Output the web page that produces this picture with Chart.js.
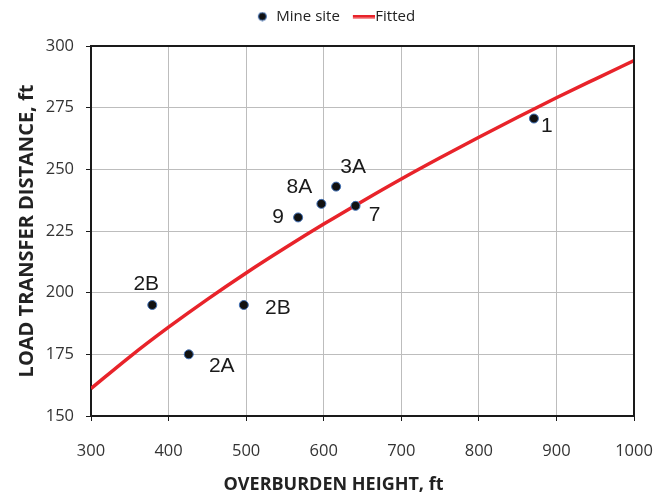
<!DOCTYPE html>
<html>
<head>
<meta charset="utf-8">
<script src="https://cdn.jsdelivr.net/npm/chart.js@4.4.1/dist/chart.umd.min.js"></script>
<style>
  html, body { margin: 0; padding: 0; background: #fff; }
  #wrap { width: 664px; height: 497px; }
</style>
</head>
<body>
<div id="wrap"><canvas id="chart" width="664" height="497"></canvas></div>
<script>
// Mine site measurements
const siteNames = ['2B', '2A', '2B', '9', '8A', '3A', '7', '1'];
const siteHeight = [379, 426, 497, 567, 597, 616, 641, 871];
const siteDistance = [195, 175, 195, 230.5, 236, 243, 235.2, 270.6];

// Fitted curve, read every 50 ft
const fitHeight = [300, 350, 400, 450, 500, 550, 600, 650, 700, 750, 800, 850, 900, 950, 1000];
const fitDistance = [161.1, 174.0, 186.0, 197.3, 208.0, 218.1, 227.8, 237.1, 246.1, 254.7, 263.0, 271.1, 279.0, 286.6, 294.1];

// Axis ticks
const xTicks = [300, 400, 500, 600, 700, 800, 900, 1000];
const yTicks = [150, 175, 200, 225, 250, 275, 300];

// label offsets (px) from each point
const labelOffsets = [[-6, -21], [33, 12], [34, 3], [-20, 0], [-22, -17], [17, -19], [19, 9], [13, 8]];

// legend icons are drawn centred on the 16px box; shift them right a bit
function makeDot() {
    const c = document.createElement('canvas');
    c.width = 14; c.height = 10;
    const g = c.getContext('2d');
    g.beginPath();
    g.arc(8.5, 5, 4, 0, Math.PI * 2);
    g.fillStyle = '#111';
    g.fill();
    g.lineWidth = 1;
    g.strokeStyle = '#3f6fb5';
    g.stroke();
    return c;
}

function makeLine() {
    const c = document.createElement('canvas');
    c.width = 30; c.height = 4;
    const g = c.getContext('2d');
    g.fillStyle = '#e8232a';
    g.fillRect(8, 0, 22, 3.5);
    return c;
}

const legendIcons = [makeDot(), makeLine()];

// fixed legend band, legend nudged into place
const legendBand = {
    id: 'legendBand',
    afterInit(chart) {
        const lg = chart.legend;
        const fit = lg.fit;
        const draw = lg.draw;
        lg.fit = function() {
            fit.call(this);
            this.height = 46;
        };
        lg.draw = function() {
            this.ctx.save();
            this.ctx.translate(17, -3);
            draw.call(this);
            this.ctx.restore();
        };
    }
};

// x title is centred on the whole chart, not the plot area
const titleShift = {
    id: 'titleShift',
    beforeDraw(chart) {
        const sc = chart.scales.x;
        if (sc._shifted) return;
        const drawTitle = sc.drawTitle;
        sc.drawTitle = function() {
            this.ctx.save();
            this.ctx.translate(-29, 0);
            drawTitle.call(this);
            this.ctx.restore();
        };
        sc._shifted = true;
    }
};

const pointLabels = {
    id: 'pointLabels',
    afterDatasetsDraw(chart) {
        const { ctx, scales } = chart;
        ctx.save();
        ctx.font = '21px "Liberation Sans", Arial, sans-serif';
        ctx.fillStyle = '#1a1a1a';
        ctx.textAlign = 'center';
        ctx.textBaseline = 'middle';
        siteNames.forEach((name, i) => {
            const x = scales.x.getPixelForValue(siteHeight[i]) + labelOffsets[i][0];
            const y = scales.y.getPixelForValue(siteDistance[i]) + labelOffsets[i][1];
            ctx.fillText(name, x, y);
        });
        ctx.restore();
    }
};

const frame = {
    id: 'frame',
    afterDraw(chart) {
        const { ctx, chartArea: a } = chart;
        ctx.save();
        ctx.strokeStyle = '#1a1a1a';
        ctx.lineWidth = 2;
        ctx.beginPath();
        ctx.moveTo(a.left, a.top);
        ctx.lineTo(a.right, a.top);
        ctx.lineTo(a.right, a.bottom);
        ctx.stroke();
        ctx.restore();
    }
};

new Chart(document.getElementById('chart'), {
    type: 'scatter',
    data: {
        datasets: [{
            label: 'Mine site',
            data: siteHeight.map((h, i) => ({ x: h, y: siteDistance[i] })),
            backgroundColor: '#111',
            borderColor: '#3f6fb5',
            borderWidth: 1,
            pointRadius: 4.5,
            order: 0
        }, {
            label: 'Fitted',
            data: fitHeight.map((h, i) => ({ x: h, y: fitDistance[i] })),
            showLine: true,
            borderColor: '#e8232a',
            borderWidth: 3.5,
            pointRadius: 0,
            cubicInterpolationMode: 'monotone',
            order: 1
        }]
    },
    options: {
        responsive: false,
        animation: false,
        devicePixelRatio: 1,
        layout: { padding: { top: 0, right: 30, left: 0, bottom: 0 } },
        plugins: {
            tooltip: { enabled: false },
            legend: {
                position: 'top',
                labels: {
                    usePointStyle: true,
                    pointStyleWidth: 16,
                    boxHeight: 10,
                    padding: 12,
                    color: '#222',
                    font: { family: '"Open Sans", sans-serif', size: 15 },
                    generateLabels(chart) {
                        const items = Chart.defaults.plugins.legend.labels.generateLabels(chart);
                        items.forEach((it, i) => { it.pointStyle = legendIcons[i]; });
                        return items;
                    }
                }
            }
        },
        scales: {
            x: {
                type: 'linear',
                min: 300,
                max: 1000,
                afterBuildTicks: s => { s.ticks = xTicks.map(v => ({ value: v })); },
                afterFit: s => {
                    s.height = 81;
                    s.paddingLeft = 0;
                    s.paddingRight = 0;
                },
                grid: { color: '#bdbdbd', tickColor: '#1a1a1a', tickLength: 5, lineWidth: 1 },
                border: { color: '#1a1a1a', width: 2 },
                ticks: {
                    padding: 20,
                    color: '#333',
                    font: { family: '"Open Sans", sans-serif', size: 16.5 },
                    callback: v => String(v)
                },
                title: {
                    display: true,
                    text: 'OVERBURDEN HEIGHT, ft',
                    color: '#222',
                    padding: { top: 0, bottom: 1 },
                    font: { family: '"Open Sans", sans-serif', size: 18, weight: 'bold' }
                }
            },
            y: {
                type: 'linear',
                min: 150,
                max: 300,
                afterBuildTicks: s => { s.ticks = yTicks.map(v => ({ value: v })); },
                afterFit: s => { s.width = 91; },
                grid: { color: '#bdbdbd', tickColor: '#1a1a1a', tickLength: 5, lineWidth: 1 },
                border: { color: '#1a1a1a', width: 2 },
                ticks: {
                    padding: 12,
                    color: '#333',
                    font: { family: '"Open Sans", sans-serif', size: 16.5 },
                    callback: v => String(v)
                },
                title: {
                    display: true,
                    text: 'LOAD TRANSFER DISTANCE, ft',
                    color: '#222',
                    padding: { top: 15, bottom: 0 },
                    font: { family: '"Open Sans", sans-serif', size: 20, weight: 'bold' }
                }
            }
        }
    },
    plugins: [legendBand, titleShift, pointLabels, frame]
});
</script>
</body>
</html>
